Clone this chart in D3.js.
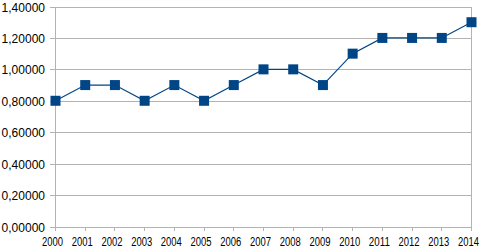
<!DOCTYPE html>
<html><head><meta charset="utf-8">
<script src="https://cdn.jsdelivr.net/npm/d3@7"></script>
<style>body{margin:0;background:#fff}svg{display:block}text{font-family:"Liberation Sans",Arial,sans-serif;font-size:12px;fill:#000}</style>
</head><body>
<svg id="c" width="490" height="250"></svg>
<script>
const years = ["2000","2001","2002","2003","2004","2005","2006","2007","2008","2009","2010","2011","2012","2013","2014"];
const values = [0.8,0.9,0.9,0.8,0.9,0.8,0.9,1.0,1.0,0.9,1.1,1.2,1.2,1.2,1.3];
const yTicks = [0,0.2,0.4,0.6,0.8,1.0,1.2,1.4];

const svg = d3.select("#c");
const x = d3.scalePoint().domain(years).range([55.5, 471.5]);
const y = d3.scaleLinear().domain([0,1.4]).range([226.5, 6.5]);
const grid = "#b3b3b3";
const fmt = v => d3.format(".5f")(v).replace(".", ",");

// horizontal grid
svg.append("g").selectAll("line").data(yTicks).join("line")
  .attr("x1", 50).attr("x2", 472).attr("y1", d => Math.round(y(d))+0.5).attr("y2", d => Math.round(y(d))+0.5)
  .attr("stroke", grid).attr("stroke-width", 1).attr("shape-rendering","crispEdges");
// left axis line & right border
svg.append("line").attr("x1",55.5).attr("x2",55.5).attr("y1",6.5).attr("y2",230.5).attr("stroke",grid).attr("shape-rendering","crispEdges");
svg.append("line").attr("x1",471.5).attr("x2",471.5).attr("y1",6.5).attr("y2",230.5).attr("stroke",grid).attr("shape-rendering","crispEdges");
// x ticks
svg.append("g").selectAll("line").data(years).join("line")
  .attr("x1", d => x(d)).attr("x2", d => x(d)).attr("y1", 226.5).attr("y2", 230.5)
  .attr("stroke", grid).attr("shape-rendering","crispEdges");
// y labels
svg.append("g").selectAll("text").data(yTicks).join("text")
  .attr("x", 45).attr("y", d => y(d)+5).attr("text-anchor","end").text(fmt);
// x labels
svg.append("g").selectAll("text").data(years).join("text")
  .attr("x", d => x(d)-13.5).attr("y", 246)
  .attr("textLength", 21).attr("lengthAdjust","spacingAndGlyphs").text(d => d);
// line
const line = d3.line().x((d,i) => x(years[i])).y(d => y(d));
svg.append("path").datum(values).attr("d", line).attr("fill","none").attr("stroke","#004586").attr("stroke-width",1.2);
// markers
svg.append("g").selectAll("rect").data(values).join("rect")
  .attr("x", (d,i) => x(years[i])-5).attr("y", d => y(d)-5)
  .attr("width",10).attr("height",10).attr("fill","#004586");
</script>
</body></html>
